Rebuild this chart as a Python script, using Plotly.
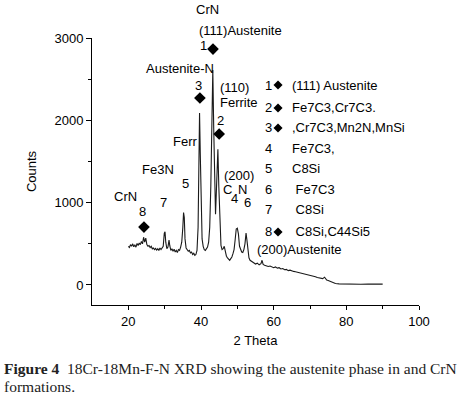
import plotly.graph_objects as go

# ---- XRD spectrum (2 Theta, Counts) ----
theta = [20.0, 20.3, 20.6, 20.9, 21.2, 21.5, 21.8, 22.1, 22.4, 22.7, 23.0, 23.3, 23.6, 23.9,
         24.2, 24.5, 24.8, 25.1, 25.4, 25.7, 26.0, 26.3, 26.6, 26.9, 27.2, 27.5, 27.8, 28.1,
         28.4, 28.7, 29.0, 29.3, 29.6, 29.9, 30.1, 30.3, 30.6, 30.9, 31.2, 31.4, 31.7, 32.0,
         32.3, 32.6, 32.9, 33.2, 33.5, 33.8, 34.1, 34.4, 34.7, 35.0, 35.2, 35.4, 35.6, 35.9,
         36.2, 36.5, 36.8, 37.1, 37.4, 37.7, 38.0, 38.3, 38.6, 38.9, 39.2, 39.45, 39.6, 39.8,
         40.0, 40.3, 40.6, 40.9, 41.2, 41.5, 41.8, 42.1, 42.4, 42.7, 43.0, 43.25, 43.5, 43.8,
         44.0, 44.2, 44.45, 44.65, 44.9, 45.2, 45.5, 45.8, 46.1, 46.4, 46.7, 47.0, 47.3, 47.6,
         47.9, 48.2, 48.5, 48.8, 49.1, 49.4, 49.7, 50.0, 50.3, 50.6, 50.9, 51.2, 51.5, 51.8,
         52.1, 52.4, 52.6, 52.9, 53.2, 53.5, 54.0, 54.5, 55.0, 55.5, 56.0, 56.5, 56.8, 57.1,
         57.5, 58.0, 58.5, 59.0, 59.5, 60.0, 60.5, 61.0, 61.5, 62.0, 62.5, 63.0, 63.5, 64.0,
         64.5, 65.0, 65.5, 66.0, 66.5, 67.0, 67.5, 68.0, 68.5, 69.0, 69.5, 70.0, 70.5, 71.0,
         71.5, 72.0, 72.5, 73.0, 73.5, 74.0, 74.3, 74.6, 75.0, 75.5, 76.0, 76.5, 77.0, 78.0,
         79.0, 80.0, 82.0, 84.0, 86.0, 88.0, 90.0]
counts = [470, 455, 490, 470, 500, 465, 485, 460, 505, 480, 510, 490, 530, 500,
          580, 520, 570, 490, 470, 480, 455, 470, 440, 450, 430, 445, 425, 440,
          420, 450, 430, 455, 470, 630, 645, 520, 440, 460, 545, 480, 420, 440,
          410, 435, 400, 420, 395, 430, 420, 460, 520, 700, 880, 820, 560, 450,
          430, 410, 420, 390, 400, 370, 385, 360, 370, 420, 700, 1500, 2090, 1600,
          900, 560, 470, 430, 420, 445, 460, 520, 700, 1200, 2000, 2610, 1900, 1000,
          860, 1100, 1550, 1650, 1200, 700, 480, 430, 440, 470, 400, 350, 330, 310,
          300, 320, 340, 380, 430, 550, 680, 690, 620, 470, 420, 400, 395, 430,
          500, 630, 560, 390, 330, 300, 280, 270, 255, 265, 245, 260, 300, 250,
          240, 235, 225, 230, 215, 210, 220, 205, 210, 195, 200, 185, 190, 175,
          180, 170, 165, 160, 155, 150, 145, 140, 135, 128, 120, 118, 110, 105,
          100, 90, 85, 80, 78, 95, 70, 60, 55, 45, 35, 25, 18, 14,
          12, 10, 10, 9, 10, 9, 10]

# ---- axes ----
X_RANGE = [10, 100]
Y_RANGE = [-243, 3000]
x_ticks = [20, 40, 60, 80, 100]
y_ticks = [0, 1000, 2000, 3000]

# ---- peak markers (diamonds) ----
peak_dia_x = [43.3, 39.7, 45.0, 24.3]
peak_dia_y = [2866, 2271, 1834, 704]

# ---- peak labels inside the plot (text, 2theta, counts) ----
peak_text = ["1", "Austenite-N", "3", "(110)", "Ferrite", "2", "Ferr", "Fe3N", "5",
             "CrN", "7", "8", "(200)", "C", "N", "4", "6", "(200)Austenite"]
peak_tx = [40.55, 34.2, 39.2, 44.7, 44.7, 45.5, 35.6, 28.2, 35.6,
           19.1, 29.8, 24.0, 50.5, 47.4, 51.3, 49.1, 52.9, 67.0]
peak_ty = [2915, 2624, 2429, 2393, 2211, 2004, 1737, 1397, 1227,
           1069, 996, 887, 1336, 1154, 1154, 1045, 1008, 437]
peak_anchor = ["center", "center", "center", "left", "left", "center", "center", "center", "center",
               "center", "center", "center", "center", "center", "center", "center", "center", "center"]

# labels above the top of the axis
top_text = ["CrN", "(111)Austenite"]
top_tx = [41.9, 51.0]
top_ty = [3352, 3097]

# ---- key of numbered phases ----
key_num = ["1", "2", "3", "4", "5", "6", "7", "8"]
key_label = ["(111) Austenite", "Fe7C3,Cr7C3.", ",Cr7C3,Mn2N,MnSi", "Fe7C3,", "C8Si",
             " Fe7C3", " C8Si", " C8Si,C44Si5"]
key_y = [2429, 2150, 1907, 1652, 1409, 1154, 911, 644]
key_has_diamond = [True, True, True, False, False, False, False, True]
KEY_NUM_X = 58.7
KEY_DIA_X = 61.2
KEY_TXT_X = 64.5

FONT = "Liberation Sans, Arial, sans-serif"
fig = go.Figure()

fig.add_trace(go.Scatter(x=theta, y=counts, mode="lines",
                         line=dict(color="#1a1a1a", width=1.1), hoverinfo="skip", showlegend=False))

fig.add_trace(go.Scatter(x=peak_dia_x, y=peak_dia_y, mode="markers",
                         marker=dict(symbol="diamond", size=9, color="black"),
                         hoverinfo="skip", showlegend=False))

kd_y = [y for y, d in zip(key_y, key_has_diamond) if d]
fig.add_trace(go.Scatter(x=[KEY_DIA_X] * len(kd_y), y=kd_y, mode="markers",
                         marker=dict(symbol="diamond", size=7, color="black"),
                         hoverinfo="skip", showlegend=False))

annots = []
for t, x, y, a in zip(peak_text, peak_tx, peak_ty, peak_anchor):
    annots.append(dict(text=t, x=x, y=y, xref="x", yref="y", xanchor=a, yanchor="middle",
                       showarrow=False, font=dict(size=13, color="black", family=FONT)))
for t, x, y in zip(top_text, top_tx, top_ty):
    yp = (y - Y_RANGE[0]) / (Y_RANGE[1] - Y_RANGE[0])
    annots.append(dict(text=t, x=x, y=yp, xref="x", yref="paper", xanchor="center",
                       yanchor="middle", showarrow=False,
                       font=dict(size=13, color="black", family=FONT)))
for n, lab, y in zip(key_num, key_label, key_y):
    annots.append(dict(text=n, x=KEY_NUM_X, y=y, xref="x", yref="y", xanchor="center",
                       yanchor="middle", showarrow=False,
                       font=dict(size=13, color="black", family=FONT)))
    annots.append(dict(text=lab, x=KEY_TXT_X, y=y, xref="x", yref="y", xanchor="left",
                       yanchor="middle", showarrow=False,
                       font=dict(size=13, color="black", family=FONT)))

# caption
annots.append(dict(text="<b>Figure 4</b>  18Cr-18Mn-F-N XRD showing the austenite phase in and CrN",
                   x=-90 / 327, y=-63 / 267, xref="paper", yref="paper", xanchor="left",
                   yanchor="middle", showarrow=False,
                   font=dict(size=15.5, color="#222", family="Liberation Serif, serif")))
annots.append(dict(text="formations.",
                   x=-90 / 327, y=-82 / 267, xref="paper", yref="paper", xanchor="left",
                   yanchor="middle", showarrow=False,
                   font=dict(size=15.5, color="#222", family="Liberation Serif, serif")))

fig.update_layout(
    width=461, height=395,
    margin=dict(l=92, r=42, t=38, b=90),
    paper_bgcolor="white", plot_bgcolor="white",
    font=dict(family=FONT, size=13, color="black"),
    annotations=annots,
    showlegend=False,
)
fig.update_xaxes(range=X_RANGE, tickvals=x_ticks, showline=True, linecolor="black", linewidth=1,
                 ticks="outside", ticklen=4, tickcolor="black", showgrid=False, zeroline=False,
                 minor=dict(tickvals=[30, 50, 70, 90], ticks="outside", ticklen=3, tickcolor="black"),
                 title=dict(text="2 Theta", font=dict(size=13), standoff=8),
                 tickfont=dict(size=13))
fig.update_yaxes(range=Y_RANGE, tickvals=y_ticks, showline=True, linecolor="black", linewidth=1,
                 ticks="outside", ticklen=5, tickcolor="black", showgrid=False, zeroline=False,
                 minor=dict(tickvals=[500, 1500, 2500], ticks="outside", ticklen=3, tickcolor="black"),
                 title=dict(text="Counts", font=dict(size=13), standoff=14),
                 tickfont=dict(size=13))

fig.write_html("out.html", config={"displayModeBar": False},
               post_script="document.body.style.margin='0';document.body.style.padding='0';")
